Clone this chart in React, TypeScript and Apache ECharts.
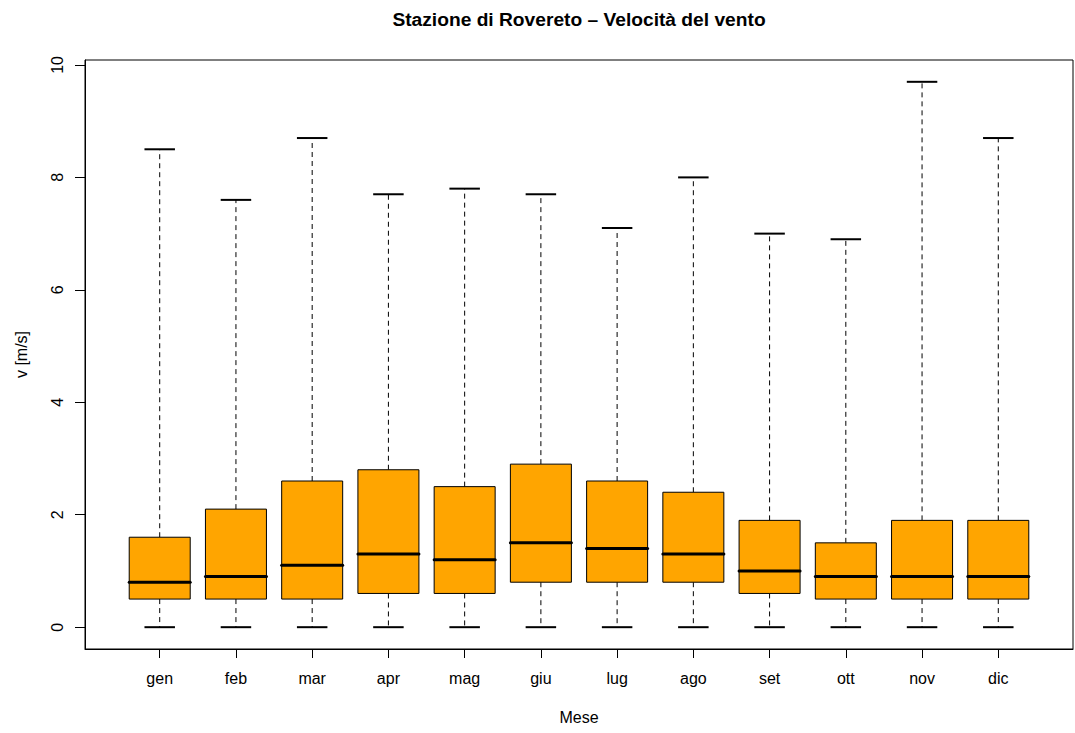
import React, { useEffect, useRef } from "react";
import * as echarts from "echarts";

const months = ["gen", "feb", "mar", "apr", "mag", "giu", "lug", "ago", "set", "ott", "nov", "dic"];
const mins = [0, 0, 0, 0, 0, 0, 0, 0, 0, 0, 0, 0];
const q1s = [0.5, 0.5, 0.5, 0.6, 0.6, 0.8, 0.8, 0.8, 0.6, 0.5, 0.5, 0.5];
const medians = [0.8, 0.9, 1.1, 1.3, 1.2, 1.5, 1.4, 1.3, 1.0, 0.9, 0.9, 0.9];
const q3s = [1.6, 2.1, 2.6, 2.8, 2.5, 2.9, 2.6, 2.4, 1.9, 1.5, 1.9, 1.9];
const maxs = [8.5, 7.6, 8.7, 7.7, 7.8, 7.7, 7.1, 8.0, 7.0, 6.9, 9.7, 8.7];
const yTicks = [0, 2, 4, 6, 8, 10];
const xTicks = months.map((_, i) => i + 1);

const FONT = "'Liberation Sans', Arial, Helvetica, sans-serif";

export default function App() {
  const ref = useRef<HTMLDivElement>(null);
  useEffect(() => {
    if (!ref.current) return;
    const chart = echarts.init(ref.current, undefined, { renderer: "svg" });
    const data = months.map((_, i) => [i + 1, mins[i], q1s[i], medians[i], q3s[i], maxs[i]]);
    chart.setOption({
      animation: false,
      backgroundColor: "#ffffff",
      textStyle: { fontFamily: FONT },
      graphic: [
        {
          type: "text",
          x: 579,
          y: 19,
          style: {
            text: "Stazione di Rovereto – Velocità del vento",
            fontSize: 19.2,
            fontWeight: "bold",
            fontFamily: FONT,
            fill: "#000",
            textAlign: "center",
            textVerticalAlign: "middle",
          },
        },
      ],
      grid: {
        left: 85,
        right: 2,
        top: 60,
        bottom: 84,
        show: true,
        borderColor: "#000",
        borderWidth: 1,
        backgroundColor: "transparent",
        outerBoundsMode: "none",
        containLabel: false,
      },
      xAxis: {
        type: "value",
        min: 0.02,
        max: 12.98,
        name: "Mese",
        nameLocation: "middle",
        nameGap: 60,
        nameTextStyle: { fontSize: 16, color: "#000", fontFamily: FONT },
        splitLine: { show: false },
        axisLine: { show: true, onZero: false, lineStyle: { color: "#000", width: 1 } },
        axisTick: { show: true, length: 9, customValues: xTicks, lineStyle: { color: "#000", width: 1 } },
        axisLabel: {
          customValues: xTicks,
          formatter: (v: number) => months[Math.round(v) - 1] ?? "",
          fontSize: 16,
          color: "#000",
          margin: 21,
          fontFamily: FONT,
        },
      },
      yAxis: {
        type: "value",
        min: -0.388,
        max: 10.088,
        name: "v [m/s]",
        nameLocation: "middle",
        nameRotate: 90,
        nameGap: 56,
        nameTextStyle: { fontSize: 16, color: "#000", fontFamily: FONT },
        splitLine: { show: false },
        axisLine: { show: true, onZero: false, lineStyle: { color: "#000", width: 1 } },
        axisTick: { show: true, length: 10, customValues: yTicks, lineStyle: { color: "#000", width: 1 } },
        axisLabel: {
          customValues: yTicks,
          rotate: 90,
          fontSize: 16,
          color: "#000",
          margin: 20,
          fontFamily: FONT,
        },
      },
      series: [
        {
          type: "custom",
          data,
          encode: { x: 0, y: [1, 2, 3, 4, 5] },
          clip: false,
          renderItem: (params: any, api: any) => {
            const x = api.value(0);
            const pMin = api.coord([x, api.value(1)]);
            const pQ1 = api.coord([x, api.value(2)]);
            const pMed = api.coord([x, api.value(3)]);
            const pQ3 = api.coord([x, api.value(4)]);
            const pMax = api.coord([x, api.value(5)]);
            const halfBox = api.size([0.4, 0])[0];
            const halfStaple = api.size([0.2, 0])[0];
            const cx = pMed[0];
            const dash = { stroke: "#000", lineWidth: 1, lineDash: [5, 4] };
            return {
              type: "group",
              children: [
                { type: "line", shape: { x1: cx, y1: pQ1[1], x2: cx, y2: pMin[1] }, style: dash },
                { type: "line", shape: { x1: cx, y1: pQ3[1], x2: cx, y2: pMax[1] }, style: dash },
                {
                  type: "line",
                  shape: { x1: cx - halfStaple, y1: pMin[1], x2: cx + halfStaple, y2: pMin[1] },
                  style: { stroke: "#000", lineWidth: 2 },
                },
                {
                  type: "line",
                  shape: { x1: cx - halfStaple, y1: pMax[1], x2: cx + halfStaple, y2: pMax[1] },
                  style: { stroke: "#000", lineWidth: 2 },
                },
                {
                  type: "rect",
                  shape: { x: cx - halfBox, y: pQ3[1], width: 2 * halfBox, height: pQ1[1] - pQ3[1] },
                  style: { fill: "#FFA500", stroke: "#000", lineWidth: 1 },
                },
                {
                  type: "line",
                  shape: { x1: cx - halfBox, y1: pMed[1], x2: cx + halfBox, y2: pMed[1] },
                  style: { stroke: "#000", lineWidth: 3, lineCap: "round" },
                },
              ],
            };
          },
        },
      ],
    });
    return () => chart.dispose();
  }, []);
  return (
    <div
      ref={ref}
      style={{ position: "fixed", left: 0, top: 0, width: 1075, height: 733, background: "#fff" }}
    />
  );
}
